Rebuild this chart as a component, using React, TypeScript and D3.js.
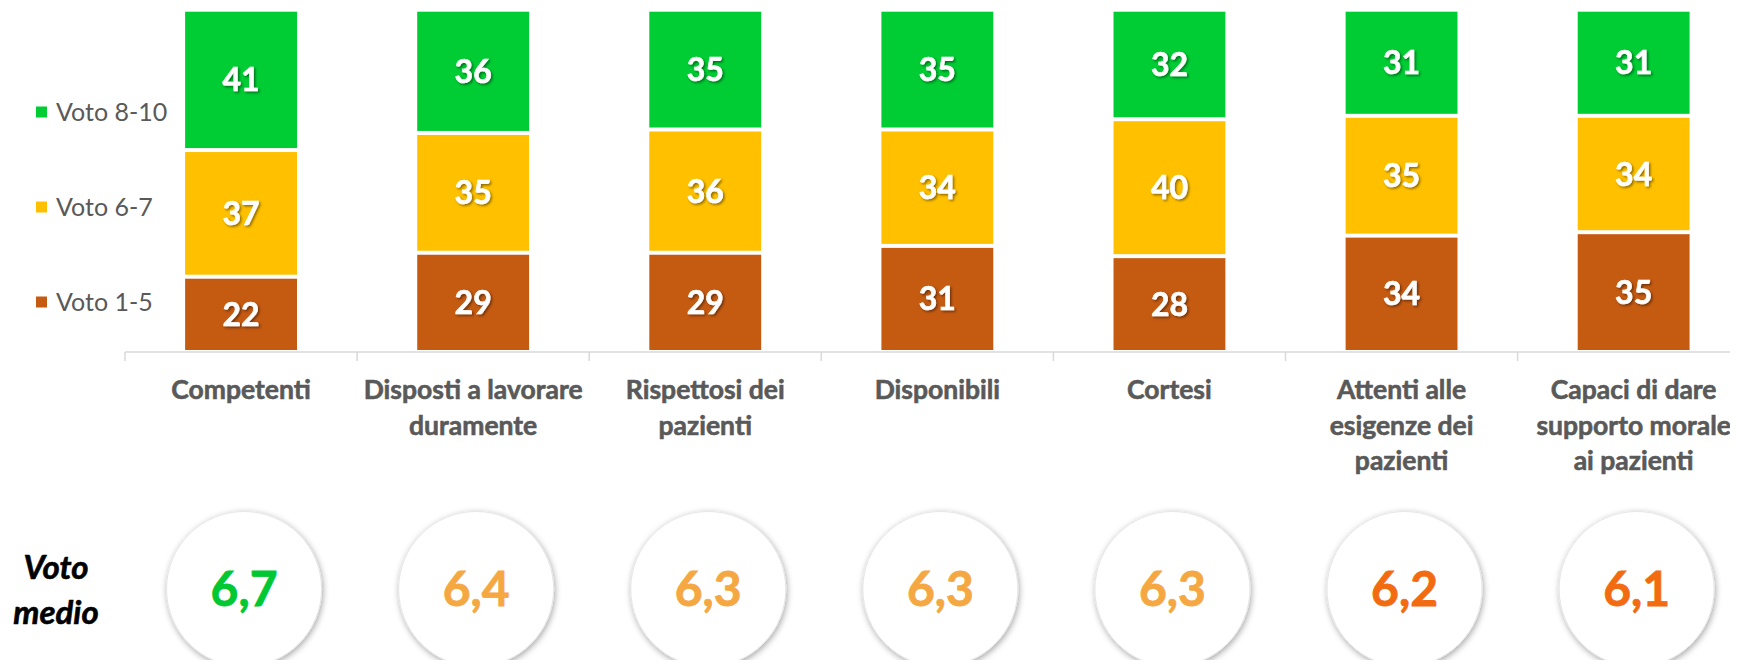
import * as React from "react"
import * as d3 from "d3"

const WIDTH = 1738
const HEIGHT = 668

const categories = [
  "Competenti",
  "Disposti a lavorare duramente",
  "Rispettosi dei pazienti",
  "Disponibili",
  "Cortesi",
  "Attenti alle esigenze dei pazienti",
  "Capaci di dare supporto morale ai pazienti",
]

// how the axis labels wrap in the original
const labelLines = [
  ["Competenti"],
  ["Disposti a lavorare", "duramente"],
  ["Rispettosi dei", "pazienti"],
  ["Disponibili"],
  ["Cortesi"],
  ["Attenti alle", "esigenze dei", "pazienti"],
  ["Capaci di dare", "supporto morale", "ai pazienti"],
]

const voto15 = [22, 29, 29, 31, 28, 34, 35]
const voto67 = [37, 35, 36, 34, 40, 35, 34]
const voto810 = [41, 36, 35, 35, 32, 31, 31]
const votoMedio = [6.7, 6.4, 6.3, 6.3, 6.3, 6.2, 6.1]

const seriesKeys = ["Voto 1-5", "Voto 6-7", "Voto 8-10"]
const seriesColors = ["#C55A11", "#FFC000", "#00CC33"]

const FONT = "Lato, 'Open Sans', sans-serif"

const App = () => {
  const rows = categories.map((c, i) => ({
    cat: c,
    "Voto 1-5": voto15[i],
    "Voto 6-7": voto67[i],
    "Voto 8-10": voto810[i],
  }))

  const stack = d3.stack().keys(seriesKeys)
  const layers = stack(rows)

  const x = d3
    .scaleBand()
    .domain(categories)
    .range([125, 125 + 7 * 232.1])
    .padding(0)
  const barW = x.bandwidth() * 0.482

  const y = d3.scaleLinear().domain([0, 100]).range([352, 9.7])

  const color = d3.scaleOrdinal().domain(seriesKeys).range(seriesColors)

  const avgColor = d3
    .scaleThreshold()
    .domain([6.25, 6.5])
    .range(["#F26B10", "#F5A742", "#00C832"])

  const fmt = d3.formatLocale({
    decimal: ",",
    thousands: ".",
    grouping: [3],
    currency: ["€", ""],
  }).format(".1f")

  const legendY = d3
    .scalePoint()
    .domain(seriesKeys.slice().reverse())
    .range([112, 302])

  return (
    <svg width={WIDTH} height={HEIGHT} style={{ display: "block", margin: -8 }}>
      <defs>
        <filter id="txtShadow" x="-20%" y="-20%" width="140%" height="140%">
          <feDropShadow dx="1.5" dy="1.5" stdDeviation="1" floodColor="#000" floodOpacity="0.45" />
        </filter>
        <filter id="circShadow" x="-20%" y="-20%" width="140%" height="140%">
          <feDropShadow dx="1" dy="2" stdDeviation="3" floodColor="#000" floodOpacity="0.35" />
        </filter>
      </defs>

      {/* bars */}
      {layers.map(layer => (
        <g key={layer.key} fill={color(layer.key)}>
          {layer.map((d, i) => {
            const cx = x(categories[i]) + x.bandwidth() / 2
            const top = y(d[1]) + 2
            const bot = y(d[0]) - 2
            const val = d[1] - d[0]
            return (
              <g key={i}>
                <rect x={cx - barW / 2} y={top} width={barW} height={bot - top} />
                <text
                  x={cx}
                  y={(top + bot) / 2}
                  dy="0.36em"
                  textAnchor="middle"
                  fill="#fff"
                  stroke="#fff"
                  strokeWidth={0.6}
                  fontFamily={FONT}
                  fontWeight="bold"
                  fontSize={32}
                  filter="url(#txtShadow)"
                >
                  {val}
                </text>
              </g>
            )
          })}
        </g>
      ))}

      {/* category axis */}
      <g stroke="#D9D9D9" strokeWidth={1.5}>
        <line x1={125} x2={WIDTH} y1={352} y2={352} />
        {categories.map(c => (
          <line key={c} x1={x(c)} x2={x(c)} y1={352} y2={361} />
        ))}
      </g>
      {categories.map((c, i) => (
        <text
          key={c}
          x={x(c) + x.bandwidth() / 2}
          y={399}
          textAnchor="middle"
          fill="#595959"
          stroke="#595959"
          strokeWidth={0.6}
          fontFamily={FONT}
          fontWeight="bold"
          fontSize={26.5}
        >
          {labelLines[i].map((l, j) => (
            <tspan key={j} x={x(c) + x.bandwidth() / 2} dy={j === 0 ? 0 : 35.5}>
              {l}
            </tspan>
          ))}
        </text>
      ))}

      {/* legend */}
      {seriesKeys.map(k => (
        <g key={k} transform={`translate(36,${legendY(k)})`}>
          <rect x={0} y={-5.5} width={11} height={11} fill={color(k)} />
          <text x={20} y={9} fill="#595959" fontFamily={FONT} fontSize={25}>
            {k}
          </text>
        </g>
      ))}

      {/* voto medio */}
      <text
        x={56}
        y={579}
        textAnchor="middle"
        fontFamily={FONT}
        fontStyle="italic"
        fontWeight="bold"
        fontSize={33}
        fill="#000"
        stroke="#000"
        strokeWidth={0.6}
      >
        <tspan x={56}>Voto</tspan>
        <tspan x={56} dy={45}>medio</tspan>
      </text>
      {categories.map((c, i) => {
        const cx = x(c) + x.bandwidth() / 2 + 3
        return (
          <g key={c}>
            <circle
              cx={cx}
              cy={589}
              r={77.5}
              fill="#fff"
              stroke="#E6E6E6"
              strokeWidth={1}
              filter="url(#circShadow)"
            />
            <text
              x={cx}
              y={589}
              dy="0.36em"
              textAnchor="middle"
              fill={avgColor(votoMedio[i])}
              stroke={avgColor(votoMedio[i])}
              strokeWidth={0.8}
              fontFamily={FONT}
              fontWeight="bold"
              fontSize={48}
            >
              {fmt(votoMedio[i])}
            </text>
          </g>
        )
      })}
    </svg>
  )
}

export default App
